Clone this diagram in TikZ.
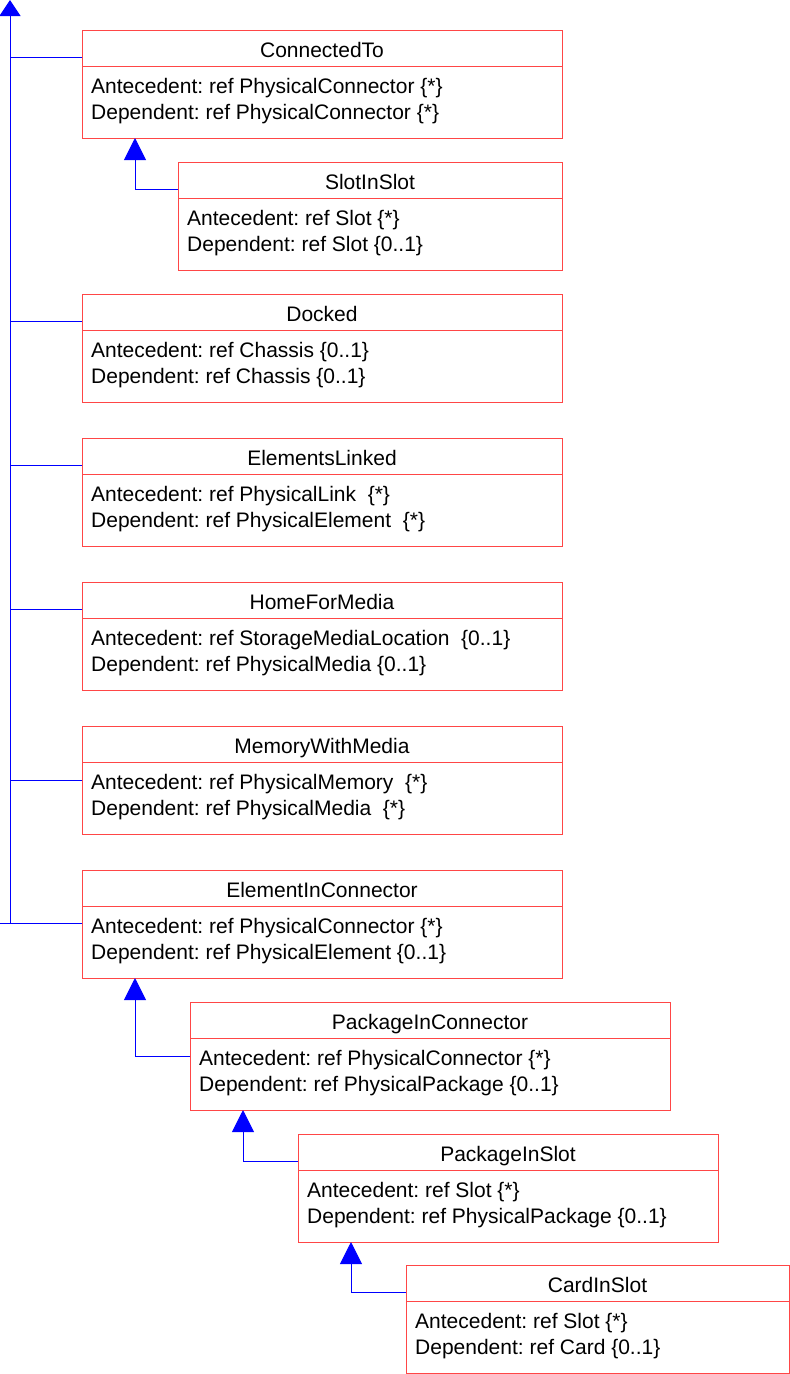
\documentclass[tikz,border=0pt]{standalone}
\usepackage{fontspec}
\setmainfont{Liberation Sans}
\frenchspacing
\usetikzlibrary{arrows.meta}

\definecolor{boxred}{RGB}{255,70,70}

\newcommand{\assocclass}[7]{%
	\node[classtitle, minimum width=#4, anchor=north west] (#1) at (#2,#3) {#5};
	\node[classbody, minimum width=#4, anchor=north west] (#1-b) at (#1.south west) {};
	\node[classattr] (#1-ant) at ([xshift=9pt, yshift=-27pt]#1-b.north west) {Antecedent: #6};
	\node[classattr] (#1-dep) at ([xshift=9pt, yshift=-53pt]#1-b.north west) {Dependent: #7};
}

\begin{document}
\begin{tikzpicture}[x = 1pt, y = -1pt,
	classtitle/.style = {draw = boxred, line width = 1pt, inner sep = 0pt, outer sep = 0pt,
		minimum height = 36pt, text height = 18pt, text depth = 0pt,
		font = \fontsize{21}{26}\selectfont},
	classbody/.style = {draw = boxred, line width = 1pt, inner sep = 0pt, outer sep = 0pt,
		minimum height = 72pt},
	classattr/.style = {anchor = base west, inner sep = 0pt, font = \fontsize{21}{26}\selectfont},
	link/.style = {draw = blue, line width = 1pt},
	genarrow/.style = {-{Triangle[width = 22pt, length = 22pt]}}]
	\useasboundingbox (0,0) rectangle (790,1374);

	\assocclass{ct}{82}{30}{480pt}{ConnectedTo}{ref PhysicalConnector \{*\}}{ref PhysicalConnector \{*\}}
	\assocclass{sis}{178}{162}{384pt}{SlotInSlot}{ref Slot \{*\}}{ref Slot \{0..1\}}
	\assocclass{dk}{82}{294}{480pt}{Docked}{ref Chassis \{0..1\}}{ref Chassis \{0..1\}}
	\assocclass{el}{82}{438}{480pt}{ElementsLinked}{ref PhysicalLink \ \{*\}}{ref PhysicalElement \ \{*\}}
	\assocclass{hfm}{82}{582}{480pt}{HomeForMedia}{ref StorageMediaLocation \ \{0..1\}}{ref PhysicalMedia \{0..1\}}
	\assocclass{mwm}{82}{726}{480pt}{MemoryWithMedia}{ref PhysicalMemory \ \{*\}}{ref PhysicalMedia \ \{*\}}
	\assocclass{eic}{82}{870}{480pt}{ElementInConnector}{ref PhysicalConnector \{*\}}{ref PhysicalElement \{0..1\}}
	\assocclass{pic}{190}{1002}{480pt}{PackageInConnector}{ref PhysicalConnector \{*\}}{ref PhysicalPackage \{0..1\}}
	\assocclass{pis}{298}{1134}{420pt}{PackageInSlot}{ref Slot \{*\}}{ref PhysicalPackage \{0..1\}}
	\assocclass{cis}{406}{1265}{383pt}{CardInSlot}{ref Slot \{*\}}{ref Card \{0..1\}}

	\coordinate (trunk) at (10,0);
	\coordinate (edge) at (0,0);
	\coordinate (trunkfoot) at ([yshift=-17pt]eic-b.north west -| trunk);

	\draw[link] ([yshift=9pt]ct.south west) -- ([yshift=9pt]ct.south west -| trunk);
	\draw[link] ([yshift=9pt]dk.south west) -- ([yshift=9pt]dk.south west -| trunk);
	\draw[link] ([yshift=9pt]el.south west) -- ([yshift=9pt]el.south west -| trunk);
	\draw[link] ([yshift=9pt]hfm.south west) -- ([yshift=9pt]hfm.south west -| trunk);
	\draw[link] ([yshift=-18pt]mwm-b.north west) -- ([yshift=-18pt]mwm-b.north west -| trunk);
	\draw[link] ([yshift=-17pt]eic-b.north west) -- ([yshift=-17pt]eic-b.north west -| edge);
	\draw[link, -{Triangle[width = 21pt, length = 16pt]}] (trunkfoot) -- (trunk);

	\draw[link, genarrow] ([yshift=9pt]sis.south west) -| ([xshift=53pt]ct-b.south west);
	\draw[link, genarrow] ([yshift=-18pt]pic-b.north west) -| ([xshift=53pt]eic-b.south west);
	\draw[link, genarrow] ([yshift=9pt]pis.south west) -| ([xshift=53pt]pic-b.south west);
	\draw[link, genarrow] ([yshift=9pt]cis.south west) -| ([xshift=53pt]pis-b.south west);
\end{tikzpicture}
\end{document}
